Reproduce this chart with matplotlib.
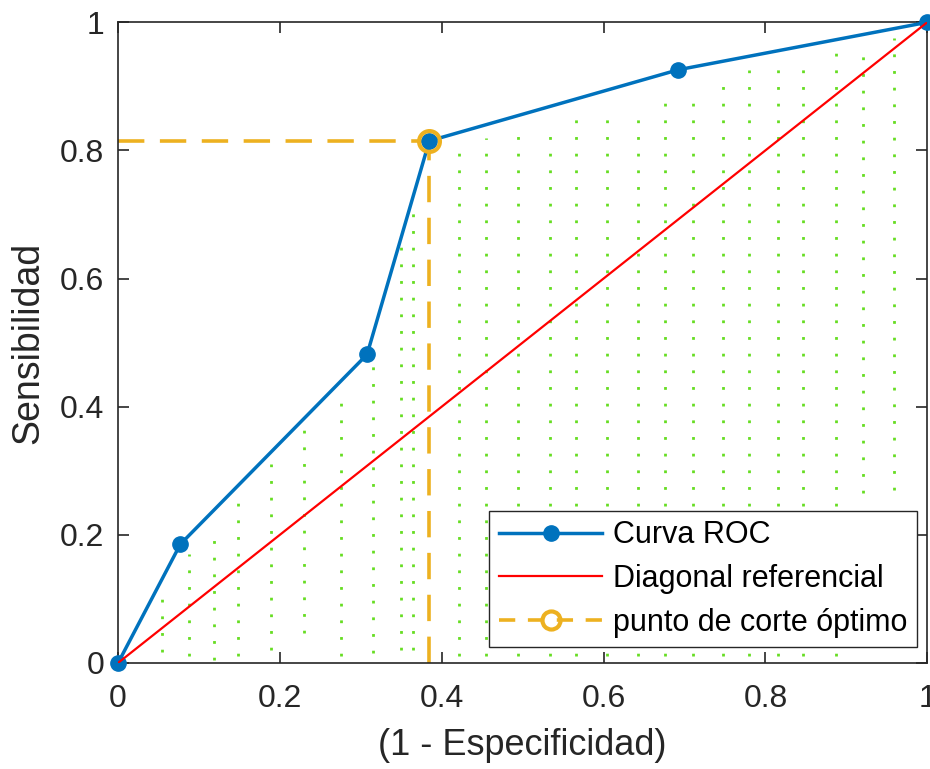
import matplotlib
matplotlib.use("Agg")
import matplotlib.pyplot as plt
import numpy as np

plt.rcParams['font.family'] = ['Liberation Sans', 'DejaVu Sans']

# ROC data
fpr = [0.0, 0.0769, 0.3077, 0.3846, 0.6923, 1.0]
tpr = [0.0, 0.1852, 0.4815, 0.8148, 0.9259, 1.0]
diag_x = [0.0, 1.0]
diag_y = [0.0, 1.0]
opt_x = 0.3846
opt_y = 0.8148

# hatch lines under the ROC curve (x position, bottom, top)
hatch_x = [0.054, 0.087, 0.119, 0.148, 0.189, 0.230, 0.276, 0.315, 0.350, 0.365,
           0.421, 0.455, 0.494, 0.534, 0.566, 0.604, 0.643, 0.676, 0.710, 0.748,
           0.780, 0.815, 0.847, 0.887, 0.921, 0.959]
hatch_bot = [0.017, 0.010, 0.005, 0.010, 0.020, 0.047, 0.010, 0.015, 0.020, 0.020,
             0.010, 0.010, 0.010, 0.010, 0.010, 0.010, 0.010, 0.010, 0.010, 0.010,
             0.010, 0.010, 0.010, 0.010, 0.265, 0.270]
hatch_top = [0.115, 0.17, 0.21, 0.26, 0.31, 0.37, 0.42, 0.47, 0.67, 0.72,
             0.81, 0.82, 0.83, 0.84, 0.85, 0.86, 0.87, 0.88, 0.89, 0.905,
             0.925, 0.93, 0.94, 0.955, 0.965, 0.975]

fig = plt.figure(figsize=(9.3, 7.69), dpi=100)
ax = fig.add_axes([0.127, 0.138, 0.870, 0.833])

for x, b, t in zip(hatch_x, hatch_bot, hatch_top):
    ax.plot([x, x], [b, t], color='#66DD22', linestyle=(0, (1, 5)), lw=2.0, zorder=1)

dash = (0, (7.3, 4.3))
l1, = ax.plot(fpr, tpr, color='#0072BD', lw=2.5, marker='o', markersize=11,
              label='Curva ROC', zorder=4, clip_on=False)
l2, = ax.plot(diag_x, diag_y, color='#FF0000', lw=1.6, label='Diagonal referencial', zorder=5)
ax.plot([0, opt_x], [opt_y, opt_y], color='#EDB120', lw=2.6, linestyle=dash, zorder=2)
ax.plot([opt_x, opt_x], [0, opt_y], color='#EDB120', lw=2.6, linestyle=dash, zorder=2)
ax.plot([opt_x], [opt_y], marker='o', markersize=15, markerfacecolor='none',
        markeredgecolor='#EDB120', markeredgewidth=3, zorder=6, linestyle='none')
l3, = ax.plot([], [], color='#EDB120', lw=2.6, linestyle=(0, (4.5, 3.5)), marker='o',
              markersize=13, markerfacecolor='none', markeredgewidth=3,
              label='punto de corte óptimo')

ax.set_xlim(0, 1)
ax.set_ylim(0, 1)
ticks = [0, 0.2, 0.4, 0.6, 0.8, 1]
labels = ['0', '0.2', '0.4', '0.6', '0.8', '1']
ax.set_xticks(ticks)
ax.set_xticklabels(labels)
ax.set_yticks(ticks)
ax.set_yticklabels(labels)
ax.tick_params(direction='in', length=8, width=1.2, colors='#262626', labelsize=23,
               top=True, right=True)
ax.tick_params(axis='x', pad=15)
ax.tick_params(axis='y', pad=10)
for s in ax.spines.values():
    s.set_color('#262626')
    s.set_linewidth(1.2)
ax.set_xlabel('(1 - Especificidad)', fontsize=26, color='#262626', labelpad=10)
ax.set_ylabel('Sensibilidad', fontsize=27, color='#262626', labelpad=10)

leg = ax.legend(handles=[l1, l2, l3], loc='lower right', fontsize=22, frameon=True,
                fancybox=False, edgecolor='#262626', framealpha=1, borderpad=0.3,
                handlelength=3.4, handletextpad=0.35, labelspacing=0.45,
                borderaxespad=0, bbox_to_anchor=(0.987, 0.025))
leg.get_frame().set_linewidth(1.0)

fig.savefig('out.png', dpi=100)
